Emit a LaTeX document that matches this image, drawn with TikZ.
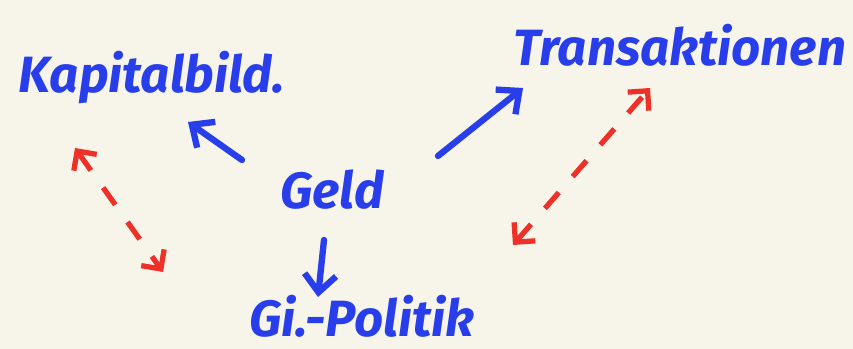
\documentclass[tikz,border=0pt]{standalone}
\usepackage{fontspec}
\setmainfont{Fira Sans}
\usepackage{tikz}
\usetikzlibrary{arrows.meta,positioning}
\definecolor{inkBlue}{RGB}{40, 62, 235}
\definecolor{inkRed}{RGB}{238, 48, 40}
\definecolor{paper}{RGB}{247, 244, 234}

\begin{document}
\begin{tikzpicture}[x=0.01cm,y=-0.01cm,
                word/.style={text=inkBlue,font=\fontsize{14.5}{16}\selectfont\itshape\bfseries,inner sep=2pt},
                flow/.style={draw=inkBlue,line width=1.8pt,line cap=round,
                             -{Straight Barb[length=5pt,width=9pt,line width=1.8pt]}},
                link/.style={draw=inkRed,line width=1.5pt,dash pattern=on 6pt off 6pt,
                             {Straight Barb[length=4pt,width=8pt,line width=1.5pt]}-{Straight Barb[length=4pt,width=8pt,line width=1.5pt]}}
            ]
                \fill[paper] (0,0) rectangle (853,349);
                \useasboundingbox (0,0) rectangle (853,349);

                \node[word] (kapital) at (152,78) {Kapitalbild.};
                \node[word] (trans) at (680,45) {Transaktionen};
                \node[word] (geld) at (332,190) {Geld};
                \node[word] (politik) at (362,316) {Gi.-Politik};

                % ends of the arrows
                \coordinate (g1) at (242,160);
                \coordinate (k1) at (188,122);
                \coordinate (g2) at (438,156);
                \coordinate (t1) at (523,88);
                \coordinate (g3) at (324,240);
                \coordinate (p1) at (318,297);
                \coordinate (ra) at (75,148);
                \coordinate (rb) at (163,272);
                \coordinate (rc) at (650,88);
                \coordinate (rd) at (513,245);

                \draw[flow] (g1) -- (k1);
                \draw[flow] (g2) -- (t1);
                \draw[flow] (g3) -- (p1);
                \draw[link] (ra) -- (rb);
                \draw[link] (rd) -- (rc);
            \end{tikzpicture}
\end{document}
